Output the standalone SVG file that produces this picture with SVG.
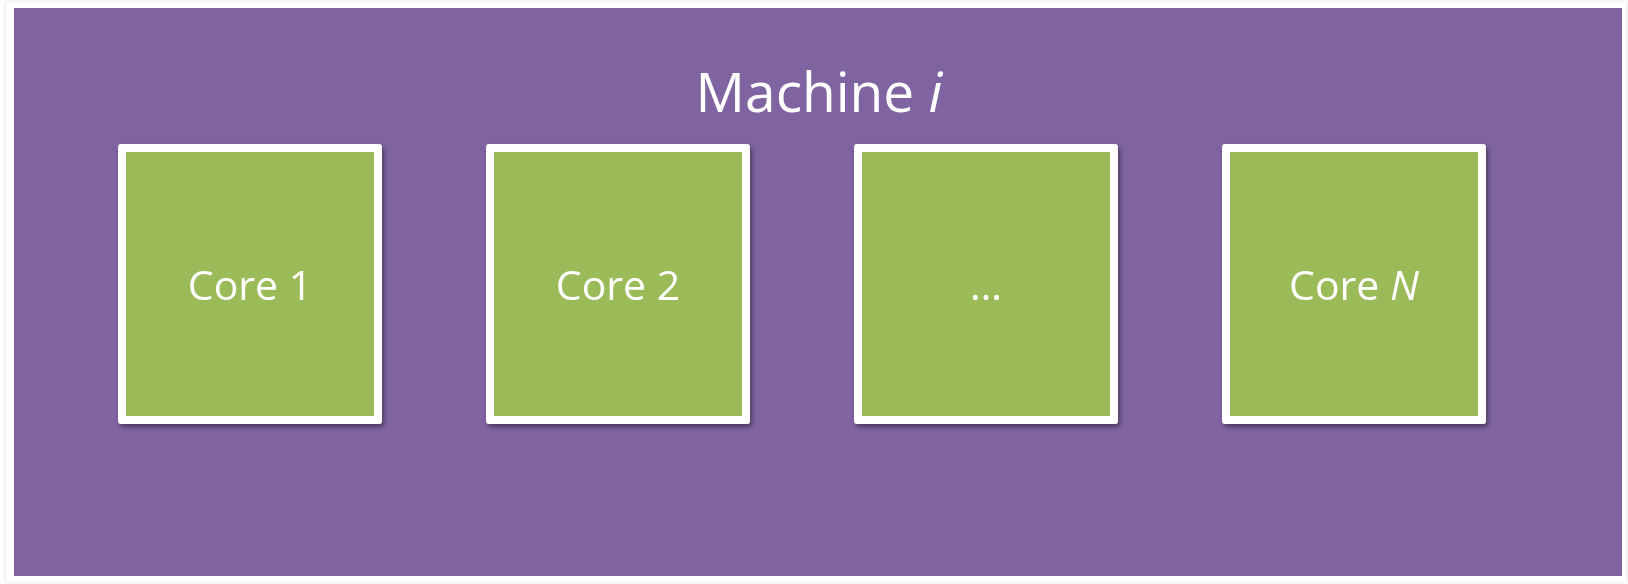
<svg xmlns="http://www.w3.org/2000/svg" width="1628" height="584" viewBox="0 0 1628 584">
  <defs>
    <filter id="shadow" x="-10%" y="-10%" width="125%" height="125%">
      <feGaussianBlur in="SourceAlpha" stdDeviation="2.5"/>
      <feOffset dx="2" dy="3" result="b"/>
      <feComponentTransfer><feFuncA type="linear" slope="0.45"/></feComponentTransfer>
      <feMerge><feMergeNode/><feMergeNode in="SourceGraphic"/></feMerge>
    </filter>
    <filter id="frameShadow" x="-2%" y="-2%" width="104%" height="104%">
      <feGaussianBlur in="SourceAlpha" stdDeviation="2"/>
      <feComponentTransfer><feFuncA type="linear" slope="0.15"/></feComponentTransfer>
      <feMerge><feMergeNode/><feMergeNode in="SourceGraphic"/></feMerge>
    </filter>
  </defs>
  <style>
    .core-frame { fill: #FFFFFF; }
    .core-fill { fill: #9BBB59; }
    .label { font-family: "Open Sans", "Noto Sans", sans-serif; fill: #FFFFFF; text-anchor: middle; }
    .core-label { font-size: 41px; }
  </style>

  <rect x="0" y="0" width="1628" height="584" fill="#FFFFFF"/>

  <g id="machine">
    <rect x="6" y="2" width="1620" height="580" fill="#FFFFFF" filter="url(#frameShadow)"/>
    <rect x="14" y="8" width="1608" height="568" fill="#8064A2"/>
    <text class="label" x="819" y="112" font-size="55">Machine <tspan font-style="italic">i</tspan></text>
  </g>

  <g id="core-1" filter="url(#shadow)">
    <rect class="core-frame" x="118" y="144" width="264" height="280" rx="3"/>
    <rect class="core-fill" x="126" y="152" width="248" height="264"/>
    <text class="label core-label" x="250" y="300">Core 1</text>
  </g>

  <g id="core-2" filter="url(#shadow)">
    <rect class="core-frame" x="486" y="144" width="264" height="280" rx="3"/>
    <rect class="core-fill" x="494" y="152" width="248" height="264"/>
    <text class="label core-label" x="618" y="300">Core 2</text>
  </g>

  <g id="core-more" filter="url(#shadow)">
    <rect class="core-frame" x="854" y="144" width="264" height="280" rx="3"/>
    <rect class="core-fill" x="862" y="152" width="248" height="264"/>
    <text class="label core-label" x="986" y="300">…</text>
  </g>

  <g id="core-n" filter="url(#shadow)">
    <rect class="core-frame" x="1222" y="144" width="264" height="280" rx="3"/>
    <rect class="core-fill" x="1230" y="152" width="248" height="264"/>
    <text class="label core-label" x="1354" y="300">Core <tspan font-style="italic">N</tspan></text>
  </g>

  <g id="connectors"/>
</svg>
